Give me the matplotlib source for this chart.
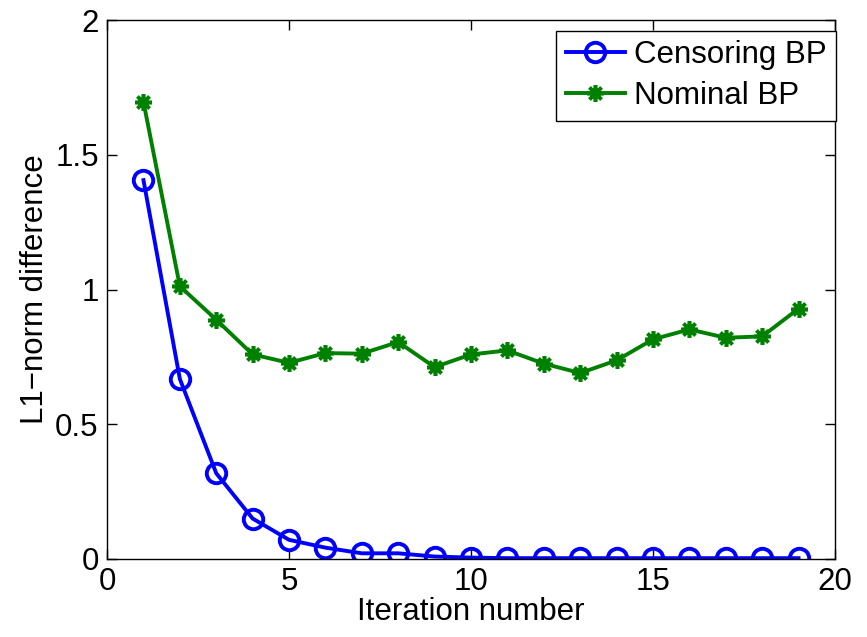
import numpy as np
import matplotlib.pyplot as plt

plt.rcParams['font.family'] = ['Liberation Sans', 'DejaVu Sans']

iterations = np.arange(1, 20)
censoring_bp = [1.406, 0.668, 0.318, 0.150, 0.071, 0.042, 0.021, 0.021, 0.009, 0.005,
                0.003, 0.003, 0.003, 0.003, 0.003, 0.003, 0.003, 0.003, 0.003]
nominal_bp = [1.696, 1.012, 0.888, 0.759, 0.728, 0.764, 0.762, 0.805, 0.712, 0.759,
              0.774, 0.725, 0.690, 0.737, 0.815, 0.852, 0.821, 0.826, 0.929]

fig = plt.figure(figsize=(8.67, 6.37), dpi=100)
ax = fig.add_axes([0.1235, 0.1225, 0.8395, 0.846])

ax.plot(iterations, censoring_bp, color='#0000ff', lw=2.8, marker='o', ms=14,
        mfc='none', mew=2.8, label='Censoring BP')
ax.plot(iterations, nominal_bp, color='#008000', lw=2.8, marker=(8, 2, 0), ms=12,
        mew=2.6, label='Nominal BP')

ax.set_xlim(0, 20)
ax.set_ylim(0, 2)
ax.set_xticks([0, 5, 10, 15, 20])
ax.set_yticks([0, 0.5, 1, 1.5, 2])
ax.set_yticklabels(['0', '0.5', '1', '1.5', '2'])
ax.tick_params(direction='in', length=7, width=1, labelsize=22.5, top=True, right=True, pad=6)
for s in ax.spines.values():
    s.set_linewidth(1)

ax.set_xlabel('Iteration number', fontsize=22.5, labelpad=0)
ax.set_ylabel('L1\u2212norm difference', fontsize=22.5, labelpad=4)

leg = ax.legend(loc='upper right', bbox_to_anchor=(1.002, 0.98), borderaxespad=0,
                fontsize=22.5, fancybox=False, framealpha=1, edgecolor='black',
                handlelength=1.9, handletextpad=0.3, borderpad=0.3, labelspacing=0.35)
leg.get_frame().set_linewidth(1)

fig.savefig('out.png', dpi=100)
